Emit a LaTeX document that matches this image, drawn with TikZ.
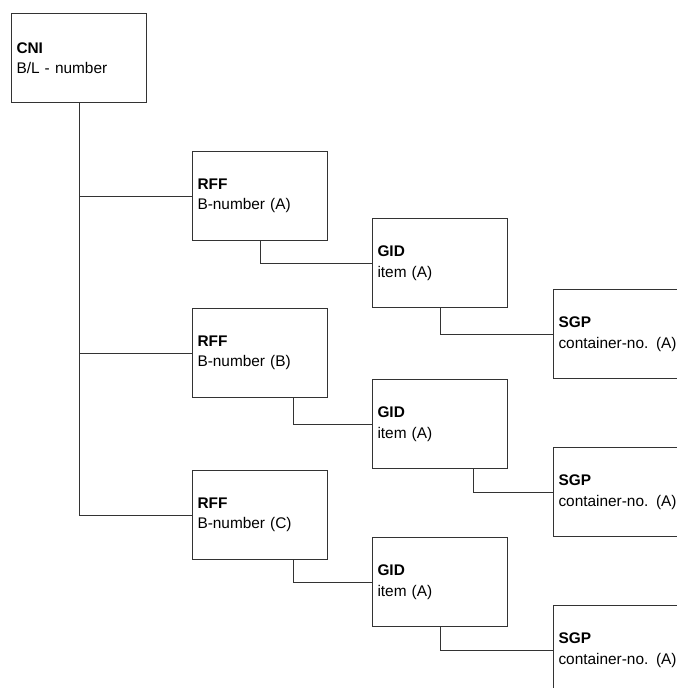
\documentclass[tikz,border=0pt]{standalone}
\usepackage{fontspec}
\setmainfont{Liberation Sans}
\usetikzlibrary{calc}
\begin{document}
\begin{tikzpicture}[x=1pt,y=-1pt,
  segbox/.style={draw=black!80, line width=1pt, rectangle, anchor=north west,
    minimum width=135pt, minimum height=89pt, text width=125pt,
    inner xsep=5pt, inner ysep=0pt, align=left,
    font=\fontsize{15.4}{20.5}\selectfont},
  link/.style={draw=black!80, line width=1pt}]
\useasboundingbox (0,0) rectangle (677,688);
\clip (0,0) rectangle (677,688);

% segment boxes
\node[segbox] (cni)  at (11,13)   {\textbf{CNI}\\B/L - number};
\node[segbox] (rffA) at (192,151) {\textbf{RFF}\\B-number (A)};
\node[segbox] (gidA) at (372,218) {\textbf{GID}\\item (A)};
\node[segbox] (sgpA) at (553,289) {\textbf{SGP}\\container-no. (A)};
\node[segbox] (rffB) at (192,308) {\textbf{RFF}\\B-number (B)};
\node[segbox] (gidB) at (372,379) {\textbf{GID}\\item (A)};
\node[segbox] (sgpB) at (553,447) {\textbf{SGP}\\container-no. (A)};
\node[segbox] (rffC) at (192,470) {\textbf{RFF}\\B-number (C)};
\node[segbox] (gidC) at (372,537) {\textbf{GID}\\item (A)};
\node[segbox] (sgpC) at (553,605) {\textbf{SGP}\\container-no. (A)};

% trunk from CNI to the RFF groups
\draw[link] (cni.south) |- (rffC.west);
\draw[link] (cni.south |- rffA.west) -- (rffA.west);
\draw[link] (cni.south |- rffB.west) -- (rffB.west);

% RFF -> GID
\draw[link] (rffA.south) |- (gidA.west);
\draw[link] ([xshift=33pt]rffB.south) |- (gidB.west);
\draw[link] ([xshift=33pt]rffC.south) |- (gidC.west);

% GID -> SGP
\draw[link] (gidA.south) |- (sgpA.west);
\draw[link] ([xshift=33pt]gidB.south) |- (sgpB.west);
\draw[link] (gidC.south) |- (sgpC.west);
\end{tikzpicture}
\end{document}
